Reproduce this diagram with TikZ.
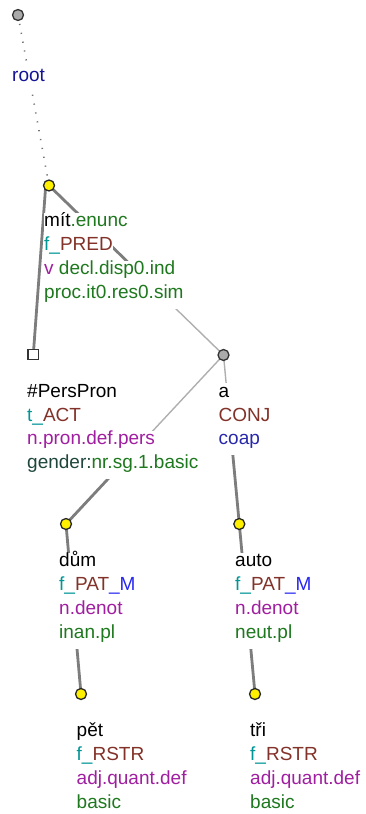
\documentclass[tikz,border=0pt]{standalone}
\usepackage{fontspec}
\setmainfont{Liberation Sans}
\usetikzlibrary{calc}
\definecolor{rootblue}{RGB}{20,20,150}
\definecolor{fteal}{RGB}{0,150,150}
\definecolor{fbrown}{RGB}{130,50,40}
\definecolor{fpurple}{RGB}{160,30,160}
\definecolor{fgreen}{RGB}{30,120,30}
\definecolor{fslate}{RGB}{30,70,60}
\definecolor{coapblue}{RGB}{40,40,170}
\definecolor{mblue}{RGB}{40,40,240}
\definecolor{thickgray}{RGB}{125,125,125}
\definecolor{thingray}{RGB}{175,175,175}
\definecolor{nodeyellow}{RGB}{255,240,0}
\definecolor{nodegray}{RGB}{170,170,170}
\pgfdeclarelayer{edges}
\pgfsetlayers{edges,main}
\begin{document}
\begin{tikzpicture}[x=1pt,y=-1pt,
  lbl/.style={anchor=base west,inner sep=0pt,fill=white,text height=14pt,text depth=10pt,font=\fontsize{19}{24}\selectfont},
  tnode/.style={circle,draw=black!85,line width=1.3pt,fill=nodeyellow,minimum size=11pt,inner sep=0pt},
  gnode/.style={circle,draw=black!80,line width=1.3pt,fill=nodegray,minimum size=11pt,inner sep=0pt},
  snode/.style={rectangle,draw=black!80,line width=1.3pt,fill=white,minimum size=10.5pt,inner sep=0pt},
  thickedge/.style={draw=thickgray,line width=2.8pt},
  thinedge/.style={draw=thingray,line width=1.4pt},
  dotedge/.style={draw=black!55,line width=1.6pt,dash pattern=on 1.2pt off 7.8pt}]
\useasboundingbox (0,0) rectangle (366,814);
% tree nodes
\node[gnode] (root) at (18,15) {};
\node[tnode] (mit) at (49,185.5) {};
\coordinate (mitleft) at (45.7,186);
\node[snode] (pers) at (33.3,354.5) {};
\node[gnode] (a) at (223.5,355) {};
\node[tnode] (dum) at (66,524) {};
\node[tnode] (auto) at (239.3,524) {};
\node[tnode] (pet) at (81,694) {};
\node[tnode] (tri) at (255,694) {};
% edges
\begin{pgfonlayer}{edges}
\draw[dotedge] (root.center) -- (mit.center);
\draw[thickedge] (mitleft) -- (pers.center);
\draw[thickedge] (mit.center) -- ($(mit)!0.5!(a)$);
\draw[thinedge] ($(mit)!0.5!(a)$) -- (a.center);
\draw[thinedge] (a.center) -- ($(a)!0.5!(dum)$);
\draw[thickedge] ($(a)!0.5!(dum)$) -- (dum.center);
\draw[thinedge] (a.center) -- ($(a)!0.5!(auto)$);
\draw[thickedge] ($(a)!0.5!(auto)$) -- (auto.center);
\draw[thickedge] (dum.center) -- (pet.center);
\draw[thickedge] (auto.center) -- (tri.center);
\end{pgfonlayer}
% labels
\node[lbl,text=rootblue] (lroot) at (12,81.7) {root};
\node[lbl] (lmit1) at (44,226.7) {mít\textcolor{fgreen}{.enunc}};
\node[lbl] (lmit2) at (44,250.7) {\textcolor{fteal}{f\_}\textcolor{fbrown}{PRED}};
\node[lbl] (lmit3) at (44,274.5) {\textcolor{fpurple}{v}\ \textcolor{fgreen}{decl.disp0.ind}};
\node[lbl,text=fgreen] (lmit4) at (44,298.5) {proc.it0.res0.sim};
\node[lbl] (lpers1) at (27,397) {\#PersPron};
\node[lbl] (lpers2) at (27,421) {\textcolor{fteal}{t\_}\textcolor{fbrown}{ACT}};
\node[lbl,text=fpurple] (lpers3) at (27,444.5) {n.pron.def.pers};
\node[lbl] (lpers4) at (27,468.5) {\textcolor{fslate}{gender:}\textcolor{fgreen}{nr.sg.1.basic}};
\node[lbl] (la1) at (218.5,397) {a};
\node[lbl,text=fbrown] (la2) at (218.5,421) {CONJ};
\node[lbl,text=coapblue] (la3) at (218.5,444.5) {coap};
\node[lbl] (ldum1) at (59,566.7) {dům};
\node[lbl] (ldum2) at (59,590.7) {\textcolor{fteal}{f\_}\textcolor{fbrown}{PAT}\textcolor{mblue}{\_M}};
\node[lbl,text=fpurple] (ldum3) at (59,614.5) {n.denot};
\node[lbl,text=fgreen] (ldum4) at (59,638.5) {inan.pl};
\node[lbl] (lauto1) at (235,566.7) {auto};
\node[lbl] (lauto2) at (235,590.7) {\textcolor{fteal}{f\_}\textcolor{fbrown}{PAT}\textcolor{mblue}{\_M}};
\node[lbl,text=fpurple] (lauto3) at (235,614.5) {n.denot};
\node[lbl,text=fgreen] (lauto4) at (235,638.5) {neut.pl};
\node[lbl] (lpet1) at (76.5,736.7) {pět};
\node[lbl] (lpet2) at (76.5,760.7) {\textcolor{fteal}{f\_}\textcolor{fbrown}{RSTR}};
\node[lbl,text=fpurple] (lpet3) at (76.5,784.5) {adj.quant.def};
\node[lbl,text=fgreen] (lpet4) at (76.5,808.5) {basic};
\node[lbl] (ltri1) at (250,736.7) {tři};
\node[lbl] (ltri2) at (250,760.7) {\textcolor{fteal}{f\_}\textcolor{fbrown}{RSTR}};
\node[lbl,text=fpurple] (ltri3) at (250,784.5) {adj.quant.def};
\node[lbl,text=fgreen] (ltri4) at (250,808.5) {basic};
\end{tikzpicture}
\end{document}
